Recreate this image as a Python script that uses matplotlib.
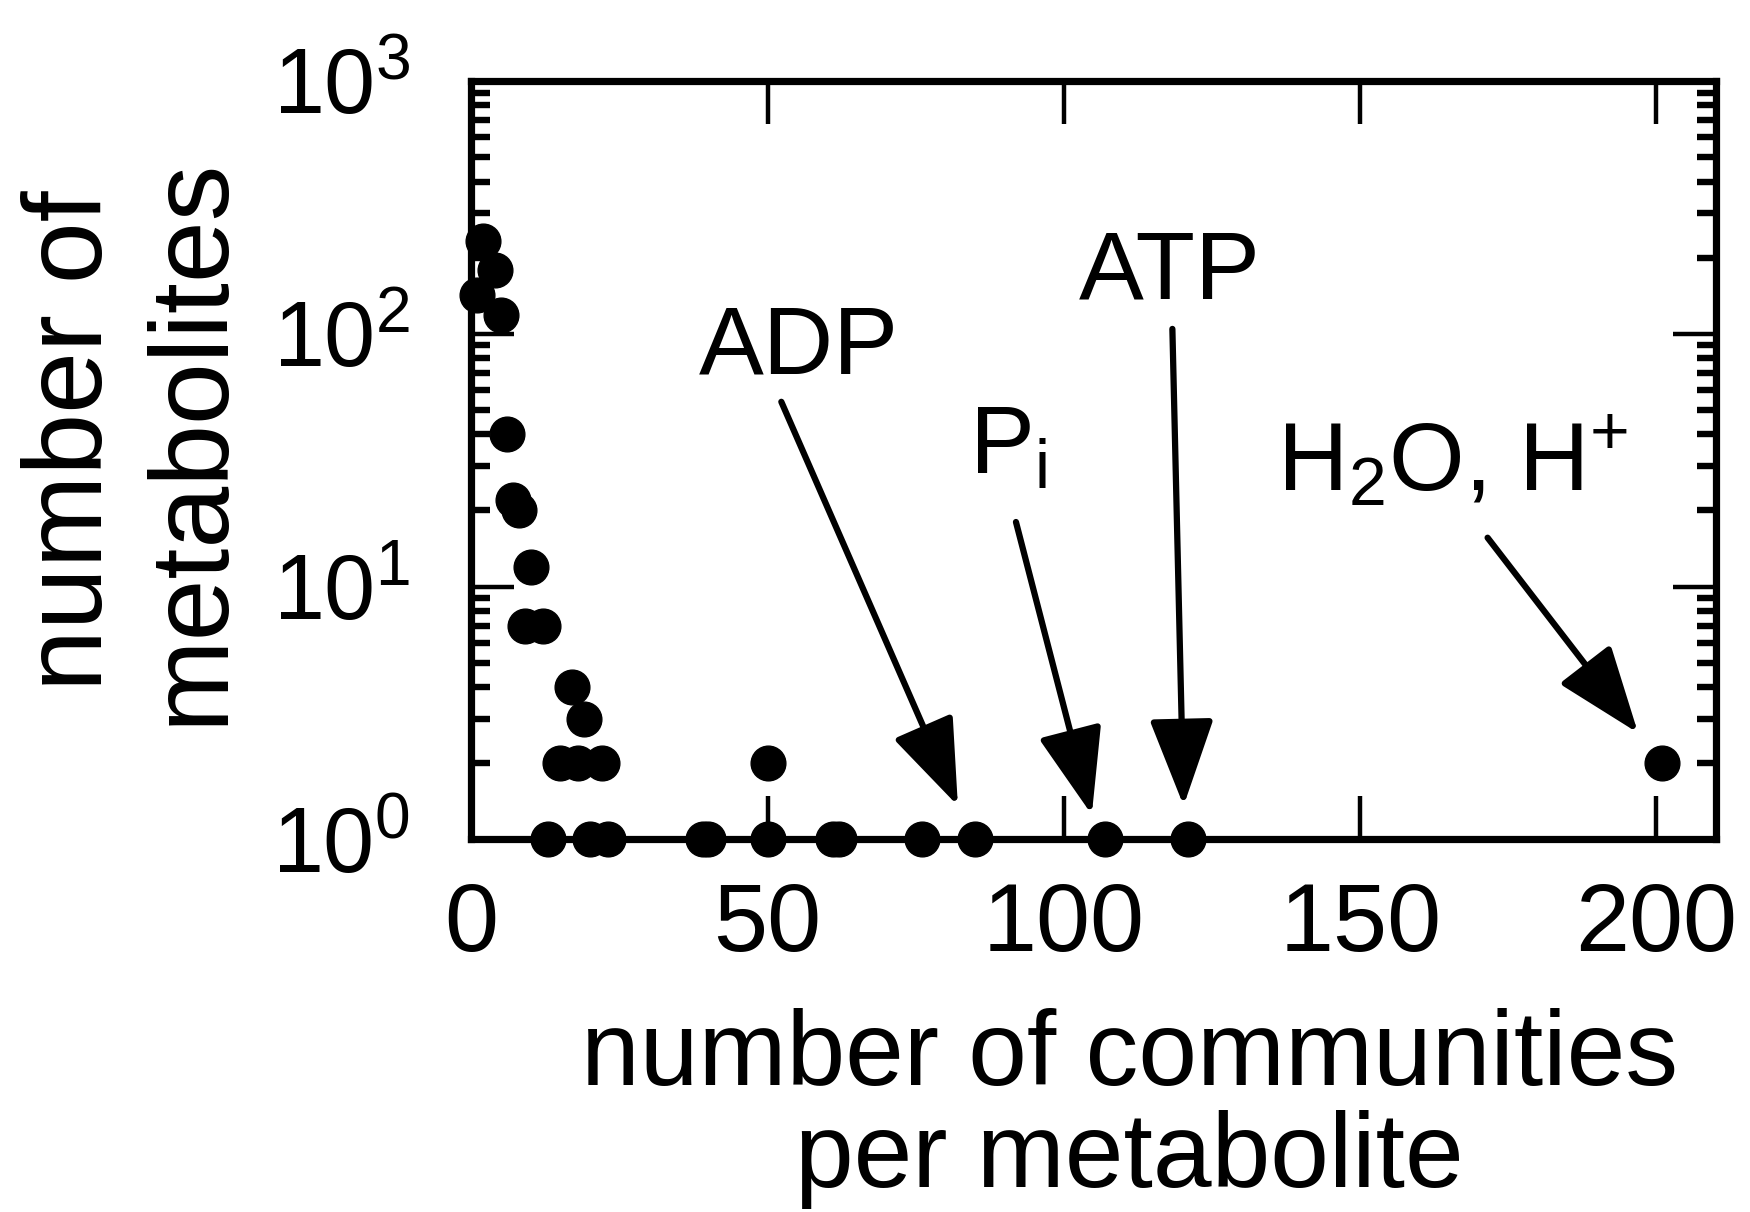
import matplotlib
matplotlib.use("Agg")
import matplotlib.pyplot as plt
from matplotlib.ticker import FixedLocator, LogLocator, NullFormatter, LogFormatterSciNotation

plt.rcParams["font.family"] = ["Liberation Sans", "DejaVu Sans"]
plt.rcParams["mathtext.fontset"] = "custom"
plt.rcParams["mathtext.rm"] = "Liberation Sans"
plt.rcParams["mathtext.it"] = "Liberation Sans:italic"
plt.rcParams["mathtext.bf"] = "Liberation Sans:bold"

# communities per metabolite vs number of metabolites
communities = [1, 2, 4, 5, 6, 7, 8, 10, 9, 12, 17, 19, 15, 18, 22,
               13, 20, 23, 39, 40, 50, 50, 61, 62, 76, 85, 107, 121, 201]
metabolites = [142, 232, 179, 119, 40, 22, 20, 12, 7, 7, 4, 3, 2, 2, 2,
               1, 1, 1, 1, 1, 1, 2, 1, 1, 1, 1, 1, 1, 2]

# annotations
labels = ["ADP", r"P$_{\mathdefault{i}}$", "ATP", r"H$_{\mathdefault{2}}$O, H$^{\mathdefault{+}}$"]
label_x = [55.2, 90.5, 117.9, 165.5]
label_y = [69.4, 27.9, 137.4, 23.9]
tail_x = [52.3, 91.9, 118.3, 171.5]
tail_y = [53.8, 18.0, 104.5, 15.6]
tip_x = [82.1, 104.7, 120.2, 196.9]
tip_y = [1.357, 1.251, 1.357, 2.634]

fig = plt.figure(figsize=(17.5, 12.12), dpi=100)
ax = fig.add_axes([0.2694, 0.3075, 0.7110, 0.6257])

ax.plot(communities, metabolites, "o", color="k", ms=25, mec="k",
        clip_on=False, zorder=5)

ax.set_yscale("log")
ax.set_xlim(0, 210)
ax.set_ylim(1, 1000)

ax.xaxis.set_major_locator(FixedLocator([0, 50, 100, 150, 200]))
ax.yaxis.set_major_locator(LogLocator(base=10, numticks=10))
ax.yaxis.set_major_formatter(LogFormatterSciNotation())
ax.yaxis.set_minor_locator(LogLocator(base=10, subs=range(2, 10), numticks=20))
ax.yaxis.set_minor_formatter(NullFormatter())

for s in ax.spines.values():
    s.set_linewidth(5.2)

ax.tick_params(axis="both", which="major", direction="in", length=31, width=3.2,
               top=True, right=True)
ax.tick_params(axis="y", which="major", labelsize=66, pad=44)
ax.tick_params(axis="x", which="major", labelsize=70, pad=30)
ax.tick_params(axis="y", which="minor", direction="in", length=14, width=4.6,
               right=True, left=True)

ax.set_xlabel("number of communities\nper metabolite", fontsize=76, linespacing=1.04)
ax.xaxis.set_label_coords(0.529, -0.222)
ax.set_ylabel("number of\nmetabolites", fontsize=80, linespacing=1.2)
ax.yaxis.set_label_coords(-0.182, 0.525)

for i in range(len(labels)):
    ax.text(label_x[i], label_y[i], labels[i], fontsize=70, ha="center", va="baseline")
    ax.annotate("", xy=(tip_x[i], tip_y[i]), xytext=(tail_x[i], tail_y[i]),
                arrowprops=dict(arrowstyle="-|>,head_length=2.7,head_width=1.0",
                                mutation_scale=20, lw=4.5, color="k",
                                shrinkA=0, shrinkB=0))

fig.savefig("out.png", dpi=100)
